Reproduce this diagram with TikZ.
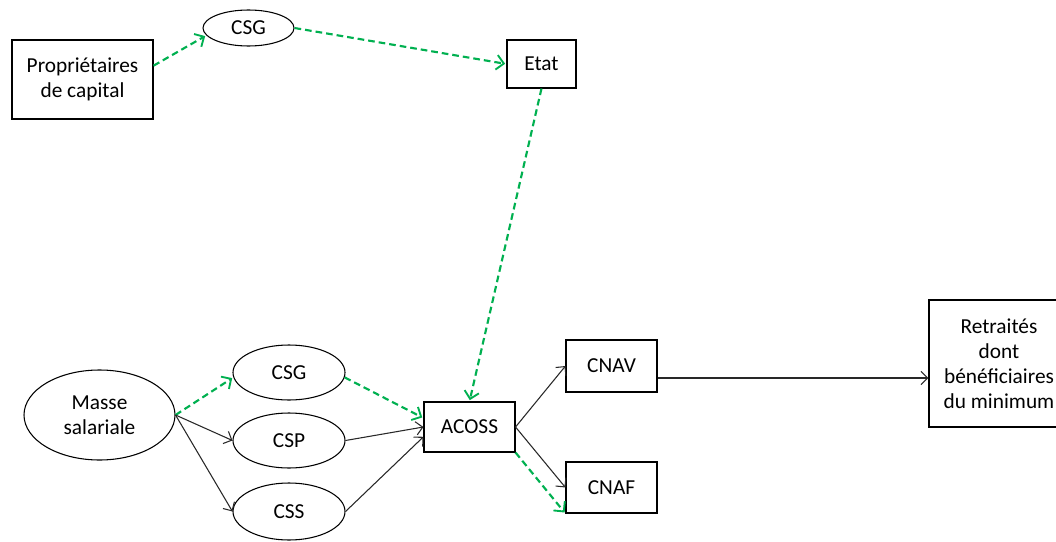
\documentclass[tikz,border=0pt]{standalone}
\usepackage{fontspec}
\setmainfont{Carlito}
\usetikzlibrary{arrows.meta,calc,shapes.geometric}
\definecolor{grn}{RGB}{0,176,80}
\definecolor{ln}{RGB}{40,40,40}
\tikzset{
  txt/.style={font=\fontsize{16pt}{18.75pt}\selectfont, align=center, inner sep=0pt},
  boxn/.style={txt, draw=black, line width=0.8pt, rectangle},
  ell/.style={txt, draw=black, line width=0.8pt, ellipse},
  gd/.style={draw=grn, line width=1.6pt, dash pattern=on 5pt off 3pt, -{Straight Barb[length=5.5pt,width=11pt,line width=1.4pt]}, shorten >=1pt},
  blk/.style={draw=ln, line width=0.8pt, -{Straight Barb[length=5pt,width=10pt,line width=0.8pt]}}
}
\begin{document}
\begin{tikzpicture}[x=0.75pt,y=-0.75pt]
\clip (0,0) rectangle (1056,542);
\useasboundingbox (0,0) rectangle (1056,542);
% nodes
\node[boxn, minimum width=141*0.75pt, minimum height=79*0.75pt] (prop) at (82.5,79.5) {Propriétaires\\de capital};
\node[ell, minimum width=91*0.75pt, minimum height=36*0.75pt] (csgA) at (248.5,28) {CSG};
\node[boxn, minimum width=69*0.75pt, minimum height=48*0.75pt] (etat) at (541.5,64) {Etat};
\node[ell, minimum width=151*0.75pt, minimum height=90*0.75pt] (masse) at (99.5,415) {Masse\\salariale};
\node[ell, minimum width=112*0.75pt, minimum height=55*0.75pt] (csgB) at (289,372.5) {CSG};
\node[ell, minimum width=112*0.75pt, minimum height=55*0.75pt] (csp) at (289,440.5) {CSP};
\node[ell, minimum width=112*0.75pt, minimum height=57*0.75pt] (css) at (289,511.5) {CSS};
\node[boxn, minimum width=91*0.75pt, minimum height=50*0.75pt] (acoss) at (469.5,427) {ACOSS};
\node[boxn, minimum width=91*0.75pt, minimum height=52*0.75pt] (cnav) at (611.5,366) {CNAV};
\node[boxn, minimum width=91*0.75pt, minimum height=51*0.75pt] (cnaf) at (611.5,487.5) {CNAF};
\node[boxn, minimum width=140*0.75pt, minimum height=127*0.75pt] (ret) at (999,363.5) {Retraités\\dont\\bénéficiaires\\du minimum};
% green dashed
\draw[gd] (prop.11) -- (csgA.190);
\draw[gd] (csgA.east) -- (etat.west);
\draw[gd] (etat.south) -- (acoss.north);
\draw[gd] (masse.east) -- (csgB.185);
\draw[gd] (csgB.-5) -- (acoss.169);
\draw[gd] (acoss.south east) -- (cnaf.south west);
% black
\draw[blk] (masse.east) -- (csp.west);
\draw[blk] (masse.east) -- (css.west);
\draw[blk] (csp.east) -- (acoss.west);
\draw[blk] (css.east) -- (acoss.192);
\draw[blk] (acoss.east) -- (cnav.west);
\draw[blk] (acoss.east) -- (cnaf.west);
\coordinate (c1) at ($(cnav.east)+(0,12)$);
\draw[blk] (c1) -- (c1 -| ret.west);
\end{tikzpicture}
\end{document}
